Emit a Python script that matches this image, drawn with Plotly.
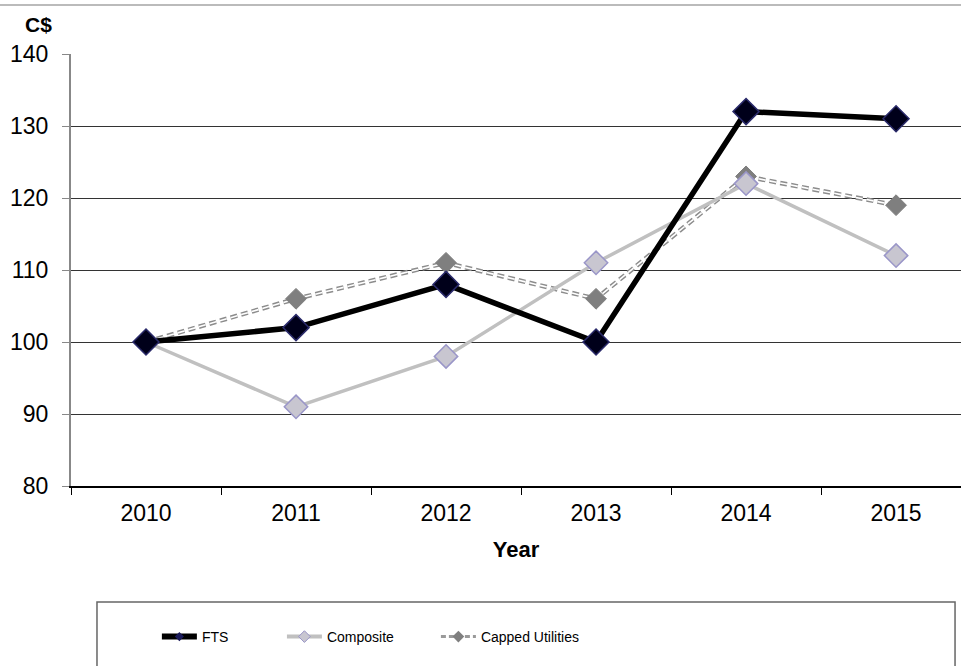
import plotly.graph_objects as go

years = ["2010", "2011", "2012", "2013", "2014", "2015"]
fts = [100, 102, 108, 100, 132, 131]
composite = [100, 91, 98, 111, 122, 112]
capped = [100, 106, 111, 106, 123, 119]
y_ticks = [80, 90, 100, 110, 120, 130, 140]

FONT = "Liberation Sans, Arial, sans-serif"
LEG_FONT = "Liberation Sans Narrow, Arial Narrow, Liberation Sans, sans-serif"
dash = "7px,4px"

CAP_LINE = "#8c8c8c"
CAP_MK = dict(symbol="diamond", size=16, color="#7f7f7f", line=dict(color="#7f7f7f", width=1))
COMP_MK = dict(symbol="diamond", size=18, color="#c8c6d0", line=dict(color="#9a96c8", width=1.5))
FTS_MK = dict(symbol="diamond", size=20, color="#00001a", line=dict(color="#2a2a6a", width=1.5))

fig = go.Figure()

# Capped Utilities (bottom layer): gray dashes with a white core
fig.add_trace(go.Scatter(x=years, y=capped, mode="lines", showlegend=False, hoverinfo="skip",
                         line=dict(color=CAP_LINE, width=4.5, dash=dash)))
fig.add_trace(go.Scatter(x=years, y=capped, mode="lines", showlegend=False, hoverinfo="skip",
                         line=dict(color="white", width=1.6, dash=dash)))
fig.add_trace(go.Scatter(x=years, y=capped, name="Capped Utilities", mode="markers",
                         showlegend=False, marker=CAP_MK))

fig.add_trace(go.Scatter(x=years, y=composite, name="Composite", mode="lines+markers",
                         showlegend=False, line=dict(color="#c0c0c0", width=3.5), marker=COMP_MK))

fig.add_trace(go.Scatter(x=years, y=fts, name="FTS", mode="lines+markers",
                         showlegend=False, line=dict(color="#000000", width=5.5), marker=FTS_MK))

# legend entries (small markers, as in the reference legend)
fig.add_trace(go.Scatter(x=[None], y=[None], name="FTS", mode="lines+markers", legend="legend",
                         line=dict(color="#000000", width=6),
                         marker=dict(symbol="diamond", size=7, color="#1a1a5a")))
fig.add_trace(go.Scatter(x=[None], y=[None], name="Composite", mode="lines+markers", legend="legend2",
                         line=dict(color="#c0c0c0", width=4),
                         marker=dict(symbol="diamond", size=9, color="#c8c6d0", line=dict(color="#9a96c8", width=1))))
fig.add_trace(go.Scatter(x=[None], y=[None], name="Capped Utilities", mode="lines+markers", legend="legend3",
                         line=dict(color="#9a9a9a", width=3, dash="5px,3px"),
                         marker=dict(symbol="diamond", size=9, color="#7f7f7f")))

leg_common = dict(orientation="h", y=-0.3495, yanchor="middle", xanchor="left",
                  font=dict(size=14, family=LEG_FONT), bgcolor="rgba(0,0,0,0)",
                  itemwidth=35)

fig.update_layout(
    width=961, height=666,
    margin=dict(l=71, r=0, t=54, b=180),
    paper_bgcolor="white", plot_bgcolor="white",
    font=dict(family=FONT, color="#000000"),
    showlegend=True,
    legend=dict(x=0.0965, **leg_common),
    legend2=dict(x=0.2370, **leg_common),
    legend3=dict(x=0.4100, **leg_common),
    xaxis=dict(
        type="category", range=[-0.5, 5.433],
        showline=True, linecolor="#000000", linewidth=1.5,
        ticks="outside", ticklen=7, tickcolor="#000000", tickson="boundaries",
        showgrid=False, tickfont=dict(size=23), ticklabelstandoff=6,
        title=dict(text="<b>Year</b>", font=dict(size=22), standoff=16),
    ),
    yaxis=dict(
        range=[80, 140], tickvals=y_ticks,
        showline=True, linecolor="#888888", linewidth=2,
        ticks="outside", ticklen=7, tickcolor="#888888",
        showgrid=True, gridcolor="#333333", gridwidth=1,
        tickfont=dict(size=23), zeroline=False, ticklabelstandoff=9,
    ),
    shapes=[
        dict(type="line", xref="paper", yref="paper", x0=-0.08, x1=1.0,
             y0=1.1134, y1=1.1134, line=dict(color="#bbbbbb", width=2)),
        dict(type="rect", xref="paper", yref="paper", x0=0.0292, x1=0.9933,
             y0=-0.50, y1=-0.2685, line=dict(color="#666666", width=1.5)),
    ],
    annotations=[
        dict(text="<b>C$</b>", xref="paper", yref="paper", x=-0.0365, y=1.0694,
             showarrow=False, font=dict(size=21), xanchor="center", yanchor="middle"),
    ],
)

fig.write_html("out.html")
